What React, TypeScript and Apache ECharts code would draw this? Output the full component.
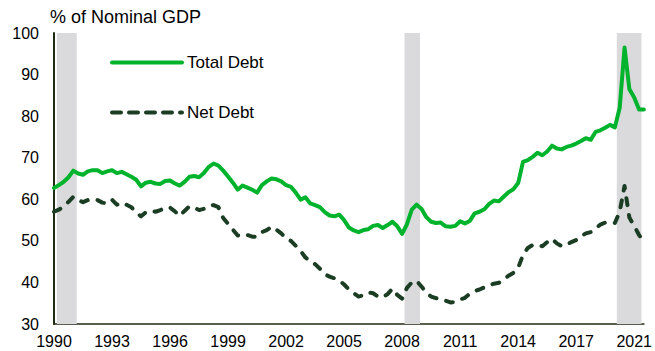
import React, { useEffect, useRef } from "react";
import * as echarts from "echarts";

// Quarterly index 0 = start of 1990; tick every 12 quarters
const tickLabels = ["1990", "1993", "1996", "1999", "2002", "2005", "2008", "2011", "2014", "2017", "2021"];

const totalDebt = [
  62.7, 63.4, 64.2, 65.3, 66.9, 66.2, 65.9, 66.7, 67.0, 67.0,
  66.3, 66.7, 67.0, 66.3, 66.6, 66.0, 65.4, 64.7, 63.1, 64.0,
  64.2, 63.8, 63.7, 64.4, 64.5, 63.8, 63.3, 64.2, 65.4, 65.6,
  65.3, 66.3, 67.8, 68.6, 68.1, 66.9, 65.5, 64.0, 62.3, 63.3,
  62.8, 62.3, 61.6, 63.4, 64.3, 65.0, 64.8, 64.3, 63.4, 63.0,
  61.6, 59.9, 60.5, 59.0, 58.6, 58.1, 56.9, 56.1, 55.9, 56.3,
  55.0, 53.2, 52.5, 52.1, 52.6, 52.8, 53.6, 53.8, 53.1, 53.8,
  54.6, 53.5, 51.7, 54.0, 57.5, 58.7, 57.7, 55.7, 54.6, 54.3,
  54.4, 53.5, 53.4, 53.6, 54.7, 54.2, 54.8, 56.6, 57.0, 57.6,
  58.9, 59.7, 59.5, 60.6, 61.7, 62.4, 63.9, 69.0, 69.4, 70.2,
  71.2, 70.6, 71.5, 72.9, 72.2, 72.0, 72.6, 72.9, 73.4, 74.0,
  74.7, 74.3, 76.2, 76.6, 77.2, 77.9, 77.3, 82.0, 96.5, 86.5,
  84.5, 81.6, 81.6,
];

const netDebt = [
  57.0, 57.5, 58.2, 59.4, 60.6, 59.8, 59.3, 59.8, 60.0, 59.8,
  59.2, 59.0, 59.9, 58.7, 59.2, 58.7, 58.1, 56.8, 55.9, 56.9,
  57.2, 57.0, 57.4, 58.0, 58.0, 57.1, 56.0, 57.2, 58.3, 58.0,
  57.4, 57.7, 58.4, 58.6, 58.1, 55.5, 54.1, 52.7, 51.3, 51.1,
  51.4, 51.0, 51.0, 52.1, 52.6, 53.4, 52.7, 51.8, 50.6, 50.0,
  48.8, 47.6, 46.0, 45.1, 44.4, 43.3, 42.0, 41.4, 41.0, 40.5,
  39.5, 38.3, 37.4, 36.6, 36.9, 37.6, 37.4, 36.6, 36.4, 37.2,
  38.5, 37.0, 36.1, 38.7, 40.0, 40.4, 39.0, 37.6, 36.6, 36.2,
  36.0, 35.6, 35.2, 35.3, 35.9, 36.3, 37.3, 37.9, 38.3, 38.8,
  39.3, 39.7, 39.9, 40.7, 41.6, 42.3, 43.5, 46.6, 48.3, 49.0,
  49.0, 48.7, 49.7, 50.5, 49.4, 48.7, 49.1, 49.7, 50.2, 51.1,
  51.8, 52.1, 53.0, 53.9, 54.4, 54.4, 54.3, 57.0, 63.2, 55.6,
  53.6, 51.4, 50.0,
];

// Recession periods, in quarter-index units
const recessions: [number, number][] = [
  [0.6, 4.7],
  [72.5, 75.7],
  [116.4, 121.5],
];

const FONT = "'Liberation Sans', Arial, Helvetica, sans-serif";

export default function App() {
  const ref = useRef<HTMLDivElement>(null);

  useEffect(() => {
    if (!ref.current) return;
    const chart = echarts.init(ref.current, null, { renderer: "svg" });
    const toPairs = (arr: number[]) => arr.map((v, i) => [i, v]);
    const lastIndex = totalDebt.length - 1;

    chart.setOption({
      animation: false,
      backgroundColor: "#ffffff",
      title: {
        text: "% of Nominal GDP",
        left: 50,
        top: 8,
        padding: 0,
        textStyle: { fontFamily: FONT, fontSize: 18, fontWeight: "normal", color: "#000000" },
      },
      legend: {
        orient: "vertical",
        left: 110,
        top: 54,
        padding: 0,
        itemWidth: 70,
        itemHeight: 14,
        itemGap: 33,
        itemStyle: { opacity: 0, borderWidth: 0 },
        lineStyle: { width: 4 },
        textStyle: { fontFamily: FONT, fontSize: 17, color: "#000000", lineHeight: 14 },
        data: [
          "Total Debt",
          { name: "Net Debt", lineStyle: { width: 4, type: [9, 8], cap: "round" } },
        ],
      },
      grid: { left: 54, right: 10, top: 33, bottom: 27, containLabel: false },
      xAxis: {
        type: "value",
        min: 0,
        max: lastIndex,
        interval: 12,
        axisLine: { show: true, lineStyle: { color: "#1e2b12", width: 1.5 } },
        axisTick: { show: false },
        splitLine: { show: false },
        axisLabel: {
          margin: 9,
          fontFamily: FONT,
          fontSize: 16,
          color: "#000000",
          showMaxLabel: false,
          formatter: (v: number) => (v % 12 === 0 ? tickLabels[v / 12] ?? "" : ""),
        },
      },
      yAxis: {
        type: "value",
        min: 30,
        max: 100,
        interval: 10,
        axisLine: { show: true, lineStyle: { color: "#1e2b12", width: 2 } },
        axisTick: { show: false },
        splitLine: { show: false },
        axisLabel: { margin: 15, fontFamily: FONT, fontSize: 16, color: "#000000" },
      },
      series: [
        {
          name: "Total Debt",
          type: "line",
          data: toPairs(totalDebt),
          symbol: "none",
          z: 3,
          lineStyle: { color: "#00b32c", width: 4, join: "round", cap: "round" },
          itemStyle: { color: "#00b32c" },
          markArea: {
            silent: true,
            itemStyle: { color: "#dadadd" },
            data: recessions.map(([a, b]) => [{ xAxis: a }, { xAxis: b }]),
          },
        },
        {
          name: "Net Debt",
          type: "line",
          data: toPairs(netDebt),
          symbol: "none",
          z: 3,
          lineStyle: { color: "#1b3d24", width: 4, type: [7, 10], cap: "round", join: "round" },
          itemStyle: { color: "#1b3d24" },
        },
      ],
    });

    return () => chart.dispose();
  }, []);

  return (
    <div
      ref={ref}
      style={{ position: "absolute", left: 0, top: 0, width: 655, height: 351 }}
    />
  );
}
